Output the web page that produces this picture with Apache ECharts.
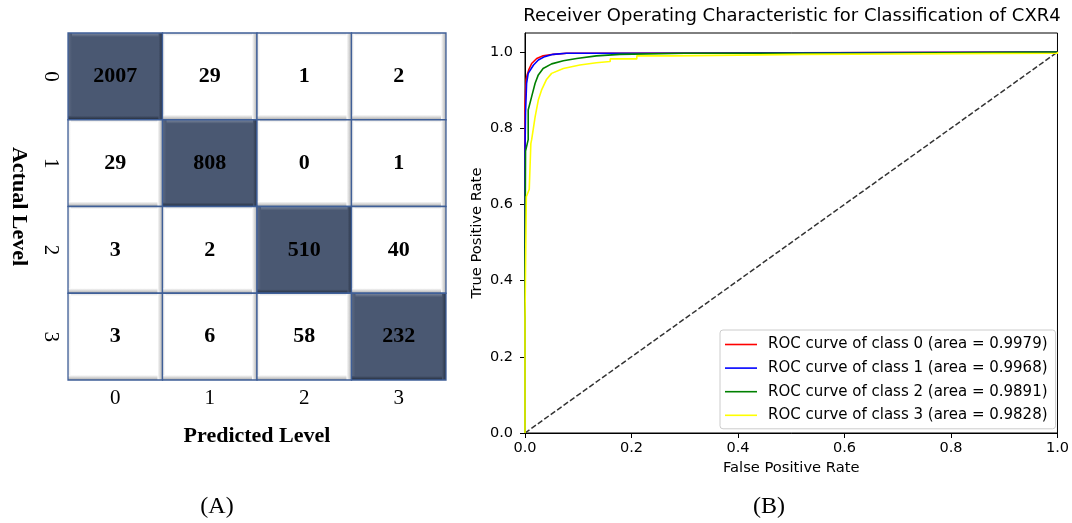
<!DOCTYPE html>
<html>
<head>
<meta charset="utf-8">
<script src="https://cdn.jsdelivr.net/npm/echarts@6/dist/echarts.min.js"></script>
<style>
  html, body { margin: 0; padding: 0; background: #fff; }
  #chart { width: 1072px; height: 523px; }
</style>
</head>
<body>
<div id="chart"></div>
<script>
// confusion matrix (rows = actual, cols = predicted)
const levels = ["0", "1", "2", "3"];
const confusion = [
  [2007, 29, 1, 2],
  [29, 808, 0, 1],
  [3, 2, 510, 40],
  [3, 6, 58, 232],
];

// ROC curves, [fpr, tpr]
const rocNames = [
  "ROC curve of class 0 (area = 0.9979)",
  "ROC curve of class 1 (area = 0.9968)",
  "ROC curve of class 2 (area = 0.9891)",
  "ROC curve of class 3 (area = 0.9828)",
];
const rocColors = ["#ff0000", "#0000ff", "#008000", "#ffff00"];
const roc0 = [[0, 0], [0, 0.86], [0.002, 0.86], [0.002, 0.927], [0.004, 0.94], [0.007, 0.953], [0.0125, 0.97], [0.022, 0.983], [0.034, 0.99], [0.053, 0.994], [0.078, 0.997], [0.18, 0.997], [0.18, 1], [1, 1]];
const roc1 = [[0, 0], [0, 0.74], [0.001, 0.74], [0.001, 0.84], [0.003, 0.84], [0.003, 0.918], [0.006, 0.944], [0.016, 0.966], [0.025, 0.979], [0.037, 0.988], [0.053, 0.994], [0.078, 0.997], [0.3, 0.997], [0.3, 1], [1, 1]];
const roc2 = [[0, 0], [0, 0.44], [0.001, 0.44], [0.001, 0.74], [0.006, 0.77], [0.006, 0.848], [0.0125, 0.883], [0.019, 0.918], [0.025, 0.94], [0.034, 0.957], [0.05, 0.969], [0.072, 0.977], [0.097, 0.983], [0.134, 0.99], [0.178, 0.994], [0.3, 0.997], [0.65, 0.997], [0.65, 1], [1, 1]];
const roc3 = [[0, 0], [0, 0.3], [0.0025, 0.3], [0.0025, 0.62], [0.008, 0.64], [0.011, 0.76], [0.0125, 0.77], [0.019, 0.83], [0.025, 0.874], [0.031, 0.9], [0.04, 0.927], [0.05, 0.944], [0.072, 0.957], [0.103, 0.966], [0.134, 0.972], [0.16, 0.975], [0.16, 0.982], [0.21, 0.982], [0.21, 0.99], [0.277, 0.99], [0.277, 0.994], [0.523, 0.994], [0.523, 0.997], [1, 0.997], [1, 1]];
const chanceLine = [[0, 0], [1, 1]];
const rateTicks = [0, 0.2, 0.4, 0.6, 0.8, 1.0];

const serif = "'Liberation Serif', 'Times New Roman', serif";
const sans = "'DejaVu Sans', sans-serif";

const cellData = [];
confusion.forEach((row, r) => {
  row.forEach((v, c) => cellData.push([c, r, v]));
});

const grad = (x0, y0, x1, y1, a, b) =>
  new echarts.graphic.LinearGradient(x0, y0, x1, y1, [
    { offset: 0, color: a },
    { offset: 1, color: b },
  ]);

function renderCell(params, api) {
  const col = api.value(0);
  const row = api.value(1);
  const pt = api.coord([col, row]);
  const size = api.size([1, 1]);
  const w = size[0];
  const h = size[1];
  const x = pt[0] - w / 2;
  const y = pt[1] - h / 2;
  const diag = col === row;
  const b = diag ? 4 : 5;
  const children = [
    { type: "rect", shape: { x, y, width: w, height: h }, style: { fill: diag ? "#4a5872" : "#ffffff" } },
  ];
  if (diag) {
    children.push(
      { type: "rect", shape: { x, y, width: w, height: b }, style: { fill: grad(0, 0, 0, 1, "#7c889e", "#4a5872") } },
      { type: "rect", shape: { x, y, width: b, height: h }, style: { fill: grad(0, 0, 1, 0, "#5d6a82", "#4a5872") } },
      { type: "rect", shape: { x, y: y + h - b, width: w, height: b }, style: { fill: grad(0, 0, 0, 1, "#4a5872", "#222b3a") } },
      { type: "rect", shape: { x: x + w - b, y, width: b, height: h }, style: { fill: grad(0, 0, 1, 0, "#4a5872", "#283244") } }
    );
  } else {
    children.push(
      { type: "rect", shape: { x, y, width: w, height: 3 }, style: { fill: grad(0, 0, 0, 1, "#dcdcdc", "#ffffff") } },
      { type: "rect", shape: { x, y, width: 3, height: h }, style: { fill: grad(0, 0, 1, 0, "#e4e4e4", "#ffffff") } },
      { type: "rect", shape: { x, y: y + h - b, width: w, height: b }, style: { fill: grad(0, 0, 0, 1, "#ffffff", "#a9a9a9") } },
      { type: "rect", shape: { x: x + w - b, y, width: b, height: h }, style: { fill: grad(0, 0, 1, 0, "#ffffff", "#b0b0b0") } }
    );
  }
  children.push(
    { type: "rect", shape: { x, y, width: w, height: h }, style: { fill: null, stroke: "#3f5f98", lineWidth: 1.3 } },
    {
      type: "text",
      style: {
        x: pt[0],
        y: pt[1],
        text: String(api.value(2)),
        align: "center",
        verticalAlign: "middle",
        font: "bold 22px " + serif,
        fill: "#000",
      },
    }
  );
  return { type: "group", children };
}

const myChart = echarts.init(document.getElementById("chart"), null, { renderer: "canvas" });

const rocSeries = [roc0, roc1, roc2, roc3].map((d, i) => ({
  name: rocNames[i],
  type: "line",
  xAxisIndex: 1,
  yAxisIndex: 1,
  data: d,
  showSymbol: false,
  symbol: "none",
  animation: false,
  lineStyle: { color: rocColors[i], width: 1.6 },
  itemStyle: { color: rocColors[i] },
  z: 3 + i,
}));

myChart.setOption({
  animation: false,
  title: [
    {
      text: "Receiver Operating Characteristic for Classification of CXR4",
      left: 792,
      top: 7,
      padding: 0,
      textAlign: "center",
      textStyle: { fontFamily: sans, fontSize: 18, fontWeight: "normal", color: "#000" },
    },
    {
      text: "(A)",
      left: 217,
      top: 495,
      padding: 0,
      textAlign: "center",
      textStyle: { fontFamily: serif, fontSize: 24, fontWeight: "normal", color: "#000" },
    },
    {
      text: "(B)",
      left: 769,
      top: 495,
      padding: 0,
      textAlign: "center",
      textStyle: { fontFamily: serif, fontSize: 24, fontWeight: "normal", color: "#000" },
    },
  ],
  legend: {
    data: rocNames,
    orient: "vertical",
    left: 720,
    top: 330,
    padding: [7, 8, 6, 5],
    itemGap: 8.6,
    itemWidth: 32,
    itemHeight: 1.6,
    icon: "rect",
    borderColor: "#cccccc",
    borderWidth: 1,
    borderRadius: 3,
    backgroundColor: "rgba(255,255,255,0.85)",
    textStyle: { fontFamily: sans, fontSize: 15, color: "#000", lineHeight: 14, padding: [0, 0, 0, 6] },
  },
  grid: [
    { left: 68, top: 33, width: 378, height: 347 },
    { left: 525, top: 33, right: 12, bottom: 90, show: true, borderColor: "#000", borderWidth: 1, backgroundColor: "transparent" },
  ],
  xAxis: [
    {
      gridIndex: 0,
      type: "category",
      data: levels,
      name: "Predicted Level",
      nameLocation: "middle",
      nameGap: 45,
      nameTextStyle: { fontFamily: serif, fontSize: 22, fontWeight: "bold", color: "#000" },
      axisLine: { show: false },
      axisTick: { show: false },
      splitLine: { show: false },
      axisLabel: { fontFamily: serif, fontSize: 21, color: "#000", margin: 8 },
    },
    {
      gridIndex: 1,
      type: "value",
      min: 0,
      max: 1,
      interval: 0.2,
      name: "False Positive Rate",
      nameLocation: "middle",
      nameGap: 27,
      nameTextStyle: { fontFamily: sans, fontSize: 14.7, color: "#000" },
      axisLine: { show: true, onZero: false, lineStyle: { color: "#000", width: 1 } },
      axisTick: { show: true, length: 5, lineStyle: { color: "#000" } },
      splitLine: { show: false },
      axisLabel: {
        fontFamily: sans,
        fontSize: 14.5,
        color: "#000",
        margin: 8,
        formatter: (v) => v.toFixed(1),
      },
    },
  ],
  yAxis: [
    {
      gridIndex: 0,
      type: "category",
      data: levels,
      inverse: true,
      name: "Actual Level",
      nameLocation: "middle",
      nameRotate: -90,
      nameGap: 38,
      nameTextStyle: { fontFamily: serif, fontSize: 22, fontWeight: "bold", color: "#000" },
      axisLine: { show: false },
      axisTick: { show: false },
      splitLine: { show: false },
      axisLabel: { fontFamily: serif, fontSize: 21, color: "#000", margin: 7, rotate: -90 },
    },
    {
      gridIndex: 1,
      type: "value",
      min: 0,
      max: 1.05,
      name: "True Positive Rate",
      nameLocation: "middle",
      nameRotate: 90,
      nameGap: 40,
      nameTextStyle: { fontFamily: sans, fontSize: 14.7, color: "#000" },
      axisLine: { show: true, onZero: false, lineStyle: { color: "#000", width: 1 } },
      axisTick: { show: true, length: 5, customValues: rateTicks, lineStyle: { color: "#000" } },
      splitLine: { show: false },
      axisLabel: {
        fontFamily: sans,
        fontSize: 14.5,
        color: "#000",
        margin: 12,
        customValues: rateTicks,
        formatter: (v) => v.toFixed(1),
      },
    },
  ],
  series: [
    {
      type: "custom",
      xAxisIndex: 0,
      yAxisIndex: 0,
      renderItem: renderCell,
      data: cellData,
      encode: { x: 0, y: 1 },
      silent: true,
    },
    ...rocSeries,
    {
      type: "line",
      xAxisIndex: 1,
      yAxisIndex: 1,
      data: chanceLine,
      showSymbol: false,
      symbol: "none",
      lineStyle: { color: "#333", width: 1.5, type: [5.5, 2.4] },
      z: 2,
    },
  ],
});
</script>
</body>
</html>
